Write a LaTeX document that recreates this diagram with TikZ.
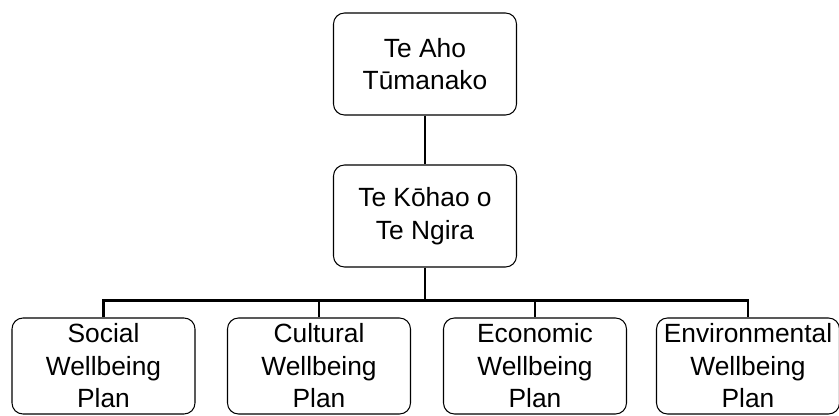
\documentclass[tikz,border=0pt]{standalone}
\usepackage{fontspec}
\setmainfont{Liberation Sans}
\usepackage{tikz}
\usetikzlibrary{positioning, calc}

\begin{document}
\begin{tikzpicture}[
    plan/.style={rectangle, draw, rounded corners=0.22cm, line width=0.6pt, minimum width=3.66cm, align=center, font=\fontsize{15}{18.5}\selectfont, inner sep=0pt},
    toplan/.style={plan, minimum height=2.04cm},
    subplan/.style={plan, minimum height=1.92cm},
    link/.style={line width=1.5pt}
]
\useasboundingbox (0,0) rectangle (16.78,-8.32);

% Top boxes
\node[toplan] (aho) at (8.5,-1.28) {Te Aho\\Tūmanako};
\node[toplan] (kohao) at (8.5,-4.32) {Te Kōhao o\\Te Ngira};

% Wellbeing plans
\node[subplan] (social) at (2.07,-7.32) {Social\\Wellbeing\\Plan};
\node[subplan] (cultural) at (6.38,-7.32) {Cultural\\Wellbeing\\Plan};
\node[subplan] (economic) at (10.70,-7.32) {Economic\\Wellbeing\\Plan};
\node[subplan] (environ) at (14.96,-7.32) {Environmental\\Wellbeing\\Plan};

% Connectors
\coordinate (bus) at ($(kohao.south)+(0,-0.66)$);
\draw[link] (aho) -- (kohao);
\draw[link] (kohao) -- (bus);
\draw[link] (bus) -| (social.north);
\draw[link] (bus) -| (cultural.north);
\draw[link] (bus) -| (economic.north);
\draw[link] (bus) -| (environ.north);

\end{tikzpicture}
\end{document}
